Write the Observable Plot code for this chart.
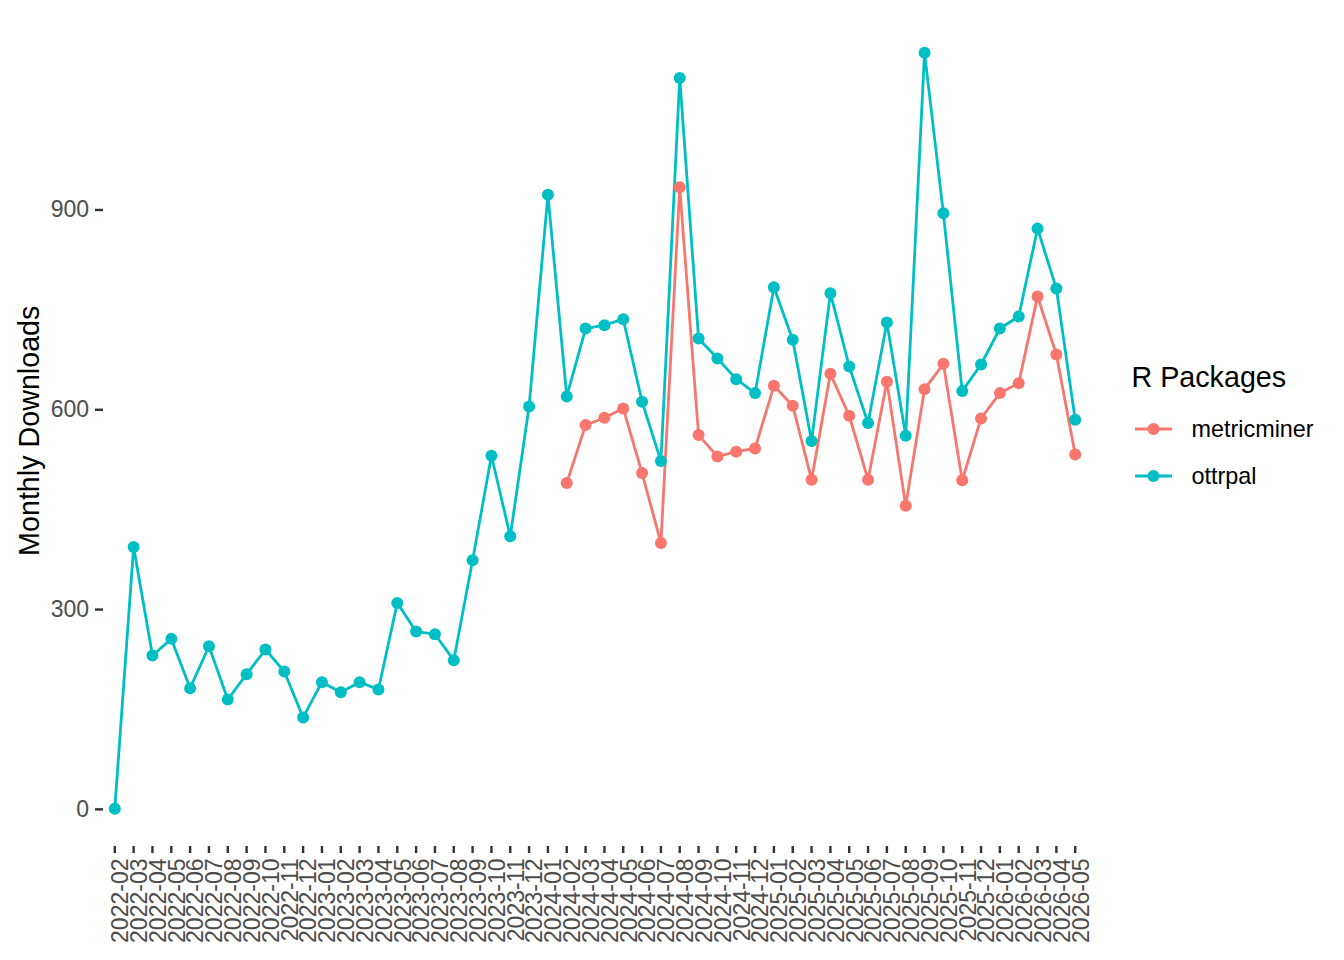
<!DOCTYPE html>
<html>
<head>
<meta charset="utf-8">
<script src="https://cdn.jsdelivr.net/npm/d3@7"></script>
<script src="https://cdn.jsdelivr.net/npm/@observablehq/plot@0.6"></script>
<style>
  html, body { margin: 0; padding: 0; background: #fff; }
  #wrap { position: relative; width: 1344px; height: 960px; font-family: "Liberation Sans", Arial, Helvetica, sans-serif; }
  #chart { position: absolute; left: 0; top: 0; }
  #legend { position: absolute; left: 1110px; top: 0; }
</style>
</head>
<body>
<div id="wrap"><div id="chart"></div><div id="legend"></div></div>
<script>
const months = [
  "2022-02","2022-03","2022-04","2022-05","2022-06","2022-07","2022-08","2022-09","2022-10","2022-11","2022-12",
  "2023-01","2023-02","2023-03","2023-04","2023-05","2023-06","2023-07","2023-08","2023-09","2023-10","2023-11","2023-12",
  "2024-01","2024-02","2024-03","2024-04","2024-05","2024-06","2024-07","2024-08","2024-09","2024-10","2024-11","2024-12",
  "2025-01","2025-02","2025-03","2025-04","2025-05","2025-06","2025-07","2025-08","2025-09","2025-10","2025-11","2025-12",
  "2026-01","2026-02","2026-03","2026-04","2026-05"
];
const packages = ["metricminer", "ottrpal"];
const colors = ["#F8766D", "#00BFC4"];
const ottrpalValues = [
  1, 394, 231, 256, 182, 245, 165, 203, 240, 207, 138,
  191, 176, 191, 180, 310, 267, 263, 224, 374, 531, 410, 605,
  923, 620, 722, 727, 736, 612, 523, 1098, 707, 677, 646, 625,
  784, 705, 553, 775, 665, 580, 731, 561, 1136, 895, 628, 668,
  722, 740, 872, 782, 585
];
const metricminerStart = "2024-02";
const metricminerValues = [
  490, 577, 588, 602, 505, 400, 934, 562, 530, 537, 542,
  636, 606, 495, 654, 591, 495, 642, 456, 631, 669, 494, 587,
  625, 640, 770, 683, 533
];
const yTicks = [0, 300, 600, 900];
const yTitle = "Monthly Downloads";
const legendTitle = "R Packages";

const mmOffset = months.indexOf(metricminerStart);
const data = [
  ...metricminerValues.map((v, i) => ({month: months[mmOffset + i], downloads: v, pkg: "metricminer"})),
  ...ottrpalValues.map((v, i) => ({month: months[i], downloads: v, pkg: "ottrpal"}))
];

const allVals = data.map(d => d.downloads);
const lo = d3.min(allVals), hi = d3.max(allVals);
const pad = (hi - lo) * 0.05;

const FONT = '"Liberation Sans", Arial, Helvetica, sans-serif';

const chart = Plot.plot({
  width: 1110,
  height: 960,
  marginLeft: 103,
  marginRight: 24,
  marginTop: 14.5,
  marginBottom: 114,
  style: {fontFamily: FONT, background: "#fff"},
  x: {type: "point", domain: months, padding: 0.6},
  y: {domain: [lo - pad, hi + pad]},
  color: {domain: packages, range: colors},
  marks: [
    Plot.axisY({ticks: yTicks, tickSize: 8, tickPadding: 6.5, fontSize: 23, fill: "#4D4D4D", stroke: "#333333", strokeWidth: 2.4, label: null}),
    Plot.axisX({tickSize: 7, tickFormat: () => "", stroke: "#333333", strokeWidth: 2.4, label: null}),
    Plot.axisX({tickRotate: -90, tickSize: 0, tickPadding: 12, dx: 6, fontSize: 23, fill: "#4D4D4D", label: null}),
    Plot.text([yTitle], {frameAnchor: "left", rotate: -90, dx: -74, fontSize: 28.7, fill: "#000", textAnchor: "middle", lineAnchor: "middle"}),
    Plot.line(data, {x: "month", y: "downloads", z: "pkg", stroke: "pkg", strokeWidth: 2.8}),
    Plot.dot(data, {x: "month", y: "downloads", fill: "pkg", r: 6})
  ]
});
document.getElementById("chart").appendChild(chart);

// Legend
const lg = d3.select("#legend").append("svg")
  .attr("width", 234).attr("height", 960)
  .style("font-family", FONT);
lg.append("text").attr("x", 21.5).attr("y", 387).attr("font-size", 28.7).attr("fill", "#000").text(legendTitle);
const rowY = [429, 476];
packages.forEach((p, i) => {
  const g = lg.append("g").attr("transform", `translate(0,${rowY[i]})`);
  g.append("line").attr("x1", 25).attr("x2", 62).attr("y1", 0).attr("y2", 0)
    .attr("stroke", colors[i]).attr("stroke-width", 2.8);
  g.append("circle").attr("cx", 43.5).attr("cy", 0).attr("r", 6).attr("fill", colors[i]);
  g.append("text").attr("x", 81.5).attr("y", 8).attr("font-size", 23.4).attr("fill", "#000").text(p);
});
</script>
</body>
</html>
